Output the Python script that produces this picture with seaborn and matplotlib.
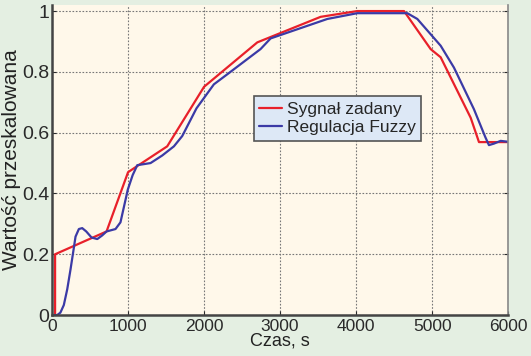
import matplotlib
matplotlib.use("Agg")
import matplotlib.pyplot as plt
import seaborn as sns
import pandas as pd

# set-point signal (red)
t_set = [0, 40, 40, 717, 1000, 1120, 1515, 2000, 2700, 3533, 4015, 4630, 4980, 5112, 5507, 5616, 6000]
y_set = [0, 0, 0.2, 0.275, 0.47, 0.49, 0.555, 0.751, 0.897, 0.981, 1.0, 1.0, 0.875, 0.848, 0.649, 0.569, 0.569]

# fuzzy controller response (blue)
t_fuz = [0, 68, 110, 155, 200, 243, 280, 309, 353, 397, 450, 520, 595, 660, 717, 835, 900, 997, 1060,
         1121, 1296, 1450, 1603, 1713, 1900, 2129, 2305, 2743, 2875, 3621, 4015, 4673, 4805, 5112, 5287,
         5550, 5700, 5747, 5813, 5901, 6000]
y_fuz = [0, 0, 0.008, 0.033, 0.085, 0.15, 0.21, 0.258, 0.283, 0.286, 0.275, 0.255, 0.25, 0.262, 0.275,
         0.283, 0.305, 0.413, 0.46, 0.493, 0.50, 0.525, 0.555, 0.589, 0.68, 0.759, 0.792, 0.875, 0.91,
         0.974, 0.993, 0.993, 0.974, 0.886, 0.814, 0.677, 0.585, 0.559, 0.564, 0.573, 0.57]

labels = ["Sygnał zadany", "Regulacja Fuzzy"]
colors = ["#e8202a", "#3b3aa6"]

df = pd.concat([
    pd.DataFrame({"t": t_set, "y": y_set, "s": labels[0]}),
    pd.DataFrame({"t": t_fuz, "y": y_fuz, "s": labels[1]}),
])

sns.set_style("ticks")
plt.rcParams["font.family"] = ["Liberation Sans", "DejaVu Sans"]

fig = plt.figure(figsize=(5.31, 3.56), dpi=100, facecolor="#e4efe2")
ax = fig.add_axes([0.098, 0.115, 0.859, 0.871])
ax.set_facecolor("#fff8ea")

sns.lineplot(data=df, x="t", y="y", hue="s", palette=colors, sort=False,
             estimator=None, linewidth=1.6, ax=ax, legend=True)

ax.set_xlim(0, 6000)
ax.set_ylim(0, 1.02)
ax.set_xticks([0, 1000, 2000, 3000, 4000, 5000, 6000])
ax.set_yticks([0, 0.2, 0.4, 0.6, 0.8, 1])
ax.set_yticklabels(["0", "0.2", "0.4", "0.6", "0.8", "1"])
ax.tick_params(axis="x", labelsize=12.5, length=3, direction="in", pad=3, colors="#2a2a2a")
ax.tick_params(axis="y", labelsize=14, length=3, direction="in", pad=2, colors="#2a2a2a")
ax.tick_params(right=True, top=False)
ax.grid(True, color="#777777", linestyle=(0, (1.5, 1.5)), linewidth=0.8)

for side in ["left", "bottom"]:
    ax.spines[side].set_color("#444444")
    ax.spines[side].set_linewidth(1.8)
ax.spines["right"].set_color("#888888")
ax.spines["right"].set_linewidth(1.2)
ax.spines["top"].set_visible(False)

ax.set_xlabel("Czas, s", fontsize=13, color="#222222", labelpad=-1)
ax.set_ylabel("Wartość przeskalowana", fontsize=15, color="#222222", labelpad=1)

leg = ax.legend(loc="upper left", bbox_to_anchor=(0.443, 0.705), fontsize=12.5, frameon=True,
                fancybox=False, handlelength=1.3, handletextpad=0.3, borderpad=0.3,
                labelspacing=0.2, borderaxespad=0)
leg.get_frame().set_facecolor("#dde8f6")
leg.get_frame().set_edgecolor("#555555")
leg.get_frame().set_alpha(1)
leg.get_frame().set_linewidth(1.2)
leg.set_title(None)

fig.savefig("out.png", dpi=100, facecolor=fig.get_facecolor())
